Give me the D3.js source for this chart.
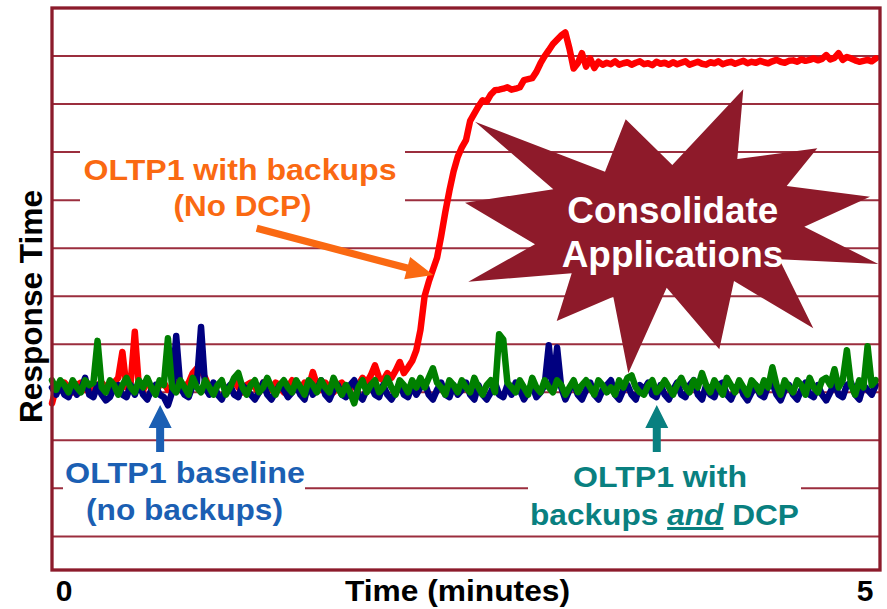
<!DOCTYPE html>
<html>
<head>
<meta charset="utf-8">
<script src="https://cdn.jsdelivr.net/npm/d3@7"></script>
<style>
    html, body { margin: 0; padding: 0; background: #fff; }
    svg { display: block; font-family: "Liberation Sans", Arial, sans-serif; font-weight: bold; }
</style>
</head>
<body>
<div id="chart"></div>
<script>
// Samples every 0.025 minutes, 0 .. 4.975 min
const sampleStep = 0.025;

// OLTP1 baseline (no backups) - navy
const baselineNoBackups = [
    41, 39.5, 41.5, 39.5, 39, 41.5, 39.5, 40.5, 43, 39.5,
    39, 41.5, 39.5, 38.3, 39, 41, 41.5, 39.5, 39, 41.5,
    39.5, 42, 39.5, 38.5, 40.5, 41.5, 39.5, 39, 37.3, 40,
    51.7, 41, 39.5, 39, 41.5, 42, 53.6, 41, 39.5, 42,
    39.5, 38.5, 40.5, 41.5, 39.5, 39, 41.5, 40.5, 39.5, 38.5,
    40, 42, 39.5, 38.5, 40, 41.5, 40.5, 39, 40, 41.5,
    39.5, 38.5, 42, 39.5, 40.5, 42.5, 39.5, 38.5, 40.5, 41.5,
    39.5, 39, 41.5, 42.5, 39.5, 38.5, 40.5, 41.5, 39.5, 39,
    41.5, 39.5, 38.5, 40, 42, 39.5, 39, 41.5, 39.5, 41,
    42, 39.5, 38.5, 40.5, 42, 39.5, 39, 41.5, 39.5, 40.5,
    42, 39.5, 38.5, 41.5, 39.5, 38.5, 40, 42, 39.5, 39,
    41.5, 39.5, 42, 40.5, 38.5, 40, 41.5, 39, 40, 41.5,
    49.8, 40.5, 49.3, 41, 38.5, 40.5, 42, 39.5, 38.5, 40.5,
    42, 39.5, 38.5, 40.5, 41.5, 42.5, 39.5, 38.5, 40.5, 41.5,
    39.5, 38.5, 41.5, 40.5, 42, 39.5, 39, 41.5, 39.5, 38.5,
    40.5, 42, 39.5, 39, 41.5, 42.5, 39.5, 38.5, 41.5, 39.5,
    39, 41.5, 42, 39.5, 38.5, 40.5, 42, 39.5, 38.3, 40,
    41.5, 39.5, 39, 41.5, 42, 39.5, 38.3, 40.5, 41.5, 39.5,
    38.5, 40.5, 42, 39.5, 39, 41.5, 39.5, 38.3, 40, 42,
    39.5, 39, 41.5, 42, 39.5, 38.5, 41.5, 40.5, 39.5, 41.5
];

// OLTP1 with backups (No DCP) - red
const withBackupsNoDcp = [
    37.7, 41, 40.5, 42, 41, 40, 41.5, 42, 40.5, 41,
    40, 41.5, 42, 41, 40.5, 42, 43, 48.4, 41, 42,
    52.6, 41, 40.5, 42, 41, 40, 41.5, 42, 40.5, 41,
    42, 40.5, 41, 42, 44, 45, 44.5, 43, 41, 40,
    41.5, 42, 40.5, 41, 42.5, 41, 40, 41.5, 42, 41,
    40, 42, 41, 40.5, 42, 41.5, 40, 41, 42.5, 41,
    40.5, 42, 41, 44.2, 41.5, 40.5, 42, 41, 40, 41.5,
    42, 41, 40.5, 42, 41.5, 43, 42, 43.5, 45.6, 43,
    42.5, 44, 43, 44.5, 46.3, 44, 45.2, 46.5, 48.75, 53,
    60, 63, 65.5, 68, 72.5, 77.5, 82, 86, 89, 91,
    92.5, 96.5, 98, 99.5, 100.8, 100.5, 102, 102.9, 103, 103.2,
    103.5, 103, 103.2, 103.5, 105, 105.2, 105.4, 106.7, 108.5, 110,
    111.2, 112.5, 113.4, 114.3, 114.9, 111.5, 107.4, 108.5, 110.6, 107.8,
    109.5, 107.5, 108.8, 108.2, 108.6, 108.3, 108.9, 108.2, 108.5, 108.7,
    108.2, 108.6, 108.9, 108.3, 108.5, 108.1, 108.8, 108.4, 108.6, 108.2,
    108.7, 108.3, 108.6, 108.9, 108.2, 108.5, 108.8, 108.4, 108.2, 108.7,
    108.5, 108.9, 108.3, 108.6, 108.8, 108.4, 108.7, 109, 108.5, 108.8,
    108.6, 109, 108.7, 108.5, 108.9, 109.2, 108.8, 108.6, 109, 109.1,
    108.8, 109.3, 109, 109.2, 109.5, 109.1, 109.4, 110.2, 109.3, 109.6,
    110.6, 109.2, 109.8, 109.5, 109.1, 108.8, 109, 109.2, 108.9, 109.5
];

// OLTP1 with backups and DCP - green
const withBackupsAndDcp = [
    42.5, 40.5, 42.5, 41.5, 40, 42.5, 41, 40, 42.5, 41.5,
    42, 50.7, 41, 40, 42.5, 41.5, 39.5, 41.5, 43, 41,
    40, 42.5, 41, 43, 41, 39.5, 42.5, 41.5, 51.25, 41,
    40, 42.5, 41, 39.5, 43, 41, 40, 42.5, 41, 39.5,
    41.5, 42.5, 39.5, 41, 43, 44, 41, 39.5, 41.5, 42.5,
    40, 41, 43, 41, 39.5, 41.5, 42.5, 41, 40, 42.5,
    41, 39.5, 42.5, 41.5, 40, 42.5, 41, 40, 43, 41,
    39.5, 41.5, 40, 37.7, 41, 42.5, 40, 41.5, 42.5, 40,
    41, 43, 41, 39.5, 42.5, 41.5, 40, 42.5, 41, 43,
    41, 43, 45, 42, 41, 39.5, 42.5, 41.5, 40, 42.5,
    41, 40, 43, 41, 39.5, 41.5, 42.5, 40, 52.1, 51,
    42, 41, 40, 42.5, 41, 39.5, 43, 41, 40, 42.5,
    41, 40, 42.5, 41.5, 39.5, 41, 42.5, 40, 41.5, 42.5,
    41, 39.5, 42.5, 41.5, 40, 41, 39.5, 42.5, 41, 43,
    43.5, 41, 40, 39.5, 41.5, 42.5, 40, 41, 42.5, 41,
    39.5, 41.5, 43, 41, 40, 42.5, 41, 44, 41.5, 40,
    42.5, 41, 39.5, 43, 41.5, 40, 42.5, 41, 39.5, 42.5,
    41.5, 40, 42.5, 41, 45.2, 41.5, 39.5, 42.5, 41, 40,
    42.5, 41.5, 39.5, 43, 41, 40, 42.5, 43, 41.5, 44.8,
    41, 42.5, 48.75, 41.5, 39.5, 42.5, 41, 49.6, 41.5, 42.5
];

const gridValues = [10, 20, 30, 40, 50, 60, 70, 80, 90, 100, 110];
const xTickLabels = [0, 5];

// Colours
const frameColor = '#8c1b2b';
const gridColor = '#9b2e3e';
const burstColor = '#8e1a2a';
const orange = '#fa6912';
const blue = '#1b5fb3';
const teal = '#098080';

const width = 887, height = 609;

const svg = d3.select('#chart')
    .append('svg')
    .attr('width', width)
    .attr('height', height);

// Scales
const x = d3.scaleLinear().domain([0, 5]).range([52, 880]);
const y = d3.scaleLinear().domain([3, 120]).range([570, 8]);

// Grid lines
svg.append('g')
    .selectAll('line')
    .data(gridValues)
    .enter()
    .append('line')
    .attr('x1', x(0))
    .attr('x2', x(5))
    .attr('y1', d => y(d))
    .attr('y2', d => y(d))
    .attr('stroke', gridColor)
    .attr('stroke-width', 2);

// White boxes behind the labels (they hide the grid)
const labelBoxes = [
    { x: 80, y: 128, w: 325, h: 98 },
    { x: 63, y: 452, w: 242, h: 76 },
    { x: 528, y: 452, w: 273, h: 76 }
];
svg.append('g')
    .selectAll('rect')
    .data(labelBoxes)
    .enter()
    .append('rect')
    .attr('x', d => d.x)
    .attr('y', d => d.y)
    .attr('width', d => d.w)
    .attr('height', d => d.h)
    .attr('fill', '#fff');

// Starburst
const burstPoints = [
    [475, 121.7], [605, 171.7], [625.7, 119.3], [672.3, 165], [743.3, 89.3],
    [737.3, 159], [817.3, 148.3], [786.7, 186], [870, 196.7], [804.3, 226.7],
    [878.3, 264], [779.3, 259.3], [813.3, 328.3], [734, 281], [719.3, 349.3],
    [666.7, 287.7], [628.3, 373.3], [613.3, 296.7], [556.7, 321], [571.7, 273.3],
    [468.3, 281.7], [535, 244.3], [465, 202.7], [553.3, 189.3]
];
svg.append('polygon')
    .attr('points', burstPoints.map(p => p.join(',')).join(' '))
    .attr('fill', burstColor);

// Data lines
const line = d3.line()
    .x((d, i) => x(i * sampleStep))
    .y(d => y(d));

const series = [
    { values: withBackupsNoDcp, color: '#ff0000' },
    { values: baselineNoBackups, color: '#000080' },
    { values: withBackupsAndDcp, color: '#008000' }
];
series.forEach(s => {
    svg.append('path')
        .datum(s.values)
        .attr('d', line)
        .attr('fill', 'none')
        .attr('stroke', s.color)
        .attr('stroke-width', 6.5)
        .attr('stroke-linejoin', 'round')
        .attr('stroke-linecap', 'round');
});

// Frame
svg.append('rect')
    .attr('x', x(0))
    .attr('y', y(120))
    .attr('width', x(5) - x(0))
    .attr('height', y(3) - y(120))
    .attr('fill', 'none')
    .attr('stroke', frameColor)
    .attr('stroke-width', 3.3);

// Arrow helper: block arrow polygon from (x1,y1) to tip (x2,y2)
function arrowPoints(x1, y1, x2, y2, shaft, head, headLen) {
    const dx = x2 - x1, dy = y2 - y1;
    const len = Math.sqrt(dx * dx + dy * dy);
    const ux = dx / len, uy = dy / len;
    const nx = -uy, ny = ux;
    const bx = x2 - ux * headLen, by = y2 - uy * headLen;
    const pts = [
        [x1 + nx * shaft, y1 + ny * shaft],
        [bx + nx * shaft, by + ny * shaft],
        [bx + nx * head, by + ny * head],
        [x2, y2],
        [bx - nx * head, by - ny * head],
        [bx - nx * shaft, by - ny * shaft],
        [x1 - nx * shaft, y1 - ny * shaft]
    ];
    return pts.map(p => p.join(',')).join(' ');
}

// Orange arrow to the rising red line
svg.append('polygon')
    .attr('points', arrowPoints(256.7, 228.3, 433.3, 275, 3.6, 11.5, 27))
    .attr('fill', orange);

// Up arrows under the baseline
svg.append('polygon')
    .attr('points', arrowPoints(x(0.653), 452, x(0.653), 405, 4, 11.5, 23))
    .attr('fill', blue);
svg.append('polygon')
    .attr('points', arrowPoints(x(3.652), 452, x(3.652), 405, 4, 11.5, 23))
    .attr('fill', teal);

// Text labels
function label(txt, cx, by, len, size, color) {
    return svg.append('text')
        .attr('x', cx)
        .attr('y', by)
        .attr('text-anchor', 'middle')
        .attr('textLength', len)
        .attr('lengthAdjust', 'spacingAndGlyphs')
        .style('font-size', size + 'px')
        .style('fill', color)
        .text(txt);
}

label('OLTP1 with backups', 240, 180, 313, 30, orange);
label('(No DCP)', 242.5, 216, 138, 30, orange);

label('Consolidate', 672.8, 222.7, 211, 36, '#fff');
label('Applications', 672.5, 266.7, 221.6, 36, '#fff');

label('OLTP1 baseline', 185, 483, 240, 30, blue);
label('(no backups)', 184.5, 520, 197, 30, blue);

label('OLTP1 with', 660, 487, 174, 30, teal);
const dcpText = svg.append('text')
    .attr('x', 664.5)
    .attr('y', 525)
    .attr('text-anchor', 'middle')
    .attr('textLength', 269)
    .attr('lengthAdjust', 'spacingAndGlyphs')
    .style('font-size', '30px')
    .style('fill', teal);
dcpText.append('tspan').text('backups ');
dcpText.append('tspan')
    .style('font-style', 'italic')
    .style('text-decoration', 'underline')
    .text('and');
dcpText.append('tspan').text(' DCP');

// Axis labels
svg.append('g')
    .selectAll('text')
    .data(xTickLabels)
    .enter()
    .append('text')
    .attr('x', d => d === 0 ? x(d) + 12 : x(d) - 15)
    .attr('y', 601)
    .attr('text-anchor', 'middle')
    .style('font-size', '30px')
    .style('fill', '#000')
    .text(d => d);

label('Time (minutes)', 457.5, 601, 225, 30, '#000');

svg.append('text')
    .attr('transform', 'translate(41.5,306.5) rotate(-90)')
    .attr('text-anchor', 'middle')
    .attr('textLength', 233)
    .attr('lengthAdjust', 'spacingAndGlyphs')
    .style('font-size', '32px')
    .style('fill', '#000')
    .text('Response Time');
</script>
</body>
</html>
